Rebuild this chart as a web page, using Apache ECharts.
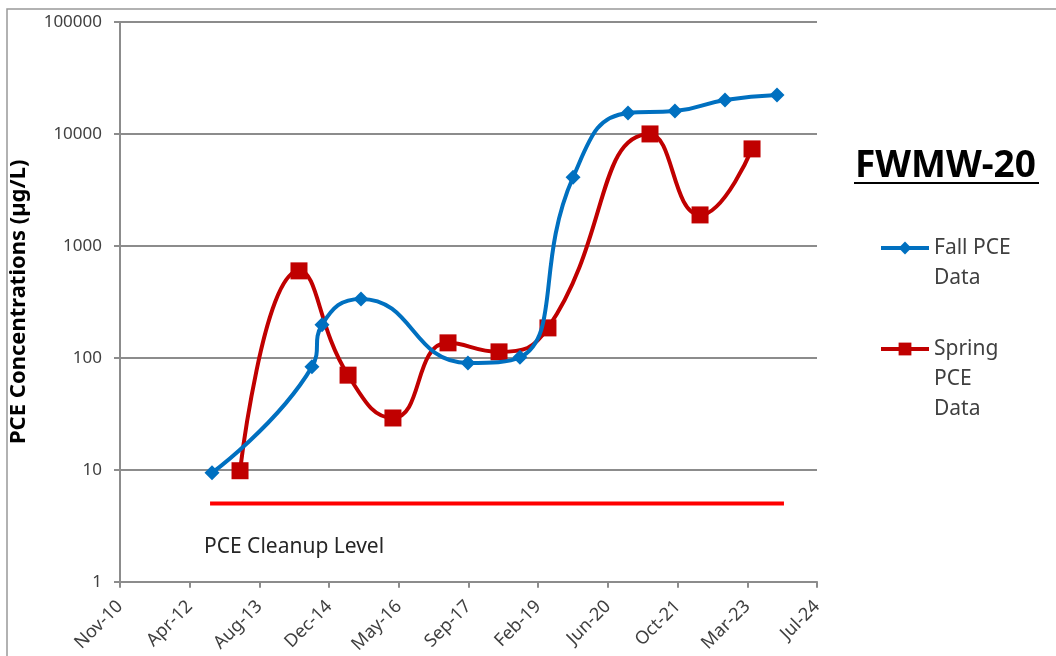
<!DOCTYPE html>
<html>
<head>
<meta charset="utf-8">
<script src="https://cdn.jsdelivr.net/npm/echarts@6/dist/echarts.min.js"></script>
<style>
	html, body { margin: 0; padding: 0; background: #fff; }
	#chart { width: 1056px; height: 656px; }
</style>
</head>
<body>
<div id="chart"></div>
<script>
	// 数据
	var fallDates = ['2012-09-08', '2014-08-26', '2014-11-06', '2015-08-13', '2017-09-18', '2018-09-26',
		'2019-10-12', '2020-11-09', '2021-10-12', '2022-10-06', '2023-10-14'];
	var fallValues = [9.4, 83, 197, 336, 90, 101, 4100, 15400, 16000, 20100, 22300];

	var springDates = ['2013-03-28', '2014-05-25', '2015-05-12', '2016-03-29', '2017-04-28', '2018-04-29',
		'2019-04-15', '2021-04-16', '2022-04-10', '2023-04-18'];
	var springValues = [9.8, 598, 70, 29, 136, 113, 185, 10000, 1890, 7350];

	var cleanupDates = ['2012-08-25', '2023-12-03'];
	var cleanupValues = [5, 5];

	var xMin = 40500, xMax = 45500, xStep = 500; // Excel 日期序号
	var yTicks = [1, 10, 100, 1000, 10000, 100000];

	var MONTHS = ['Jan', 'Feb', 'Mar', 'Apr', 'May', 'Jun', 'Jul', 'Aug', 'Sep', 'Oct', 'Nov', 'Dec'];

	// 日期字符串 -> Excel 序号
	var toSerial = function(s) {
		var p = s.split('-');
		return Date.UTC(+p[0], +p[1] - 1, +p[2]) / 86400000 + 25569;
	};
	// Excel 序号 -> 'Mon-YY'
	var fmtSerial = function(v) {
		var d = new Date((v - 25569) * 86400000);
		return MONTHS[d.getUTCMonth()] + '-' + String(d.getUTCFullYear()).slice(2);
	};
	var pair = function(dates, vals) {
		var out = [];
		for(var i = 0; i < dates.length; i++) {
			out.push([toSerial(dates[i]), vals[i]]);
		}
		return out;
	};

	var FONT = 'Noto Sans';
	var GRIDC = '#8c8c8c';
	var legendText = { fontFamily: FONT, fontSize: 21, color: '#404040', lineHeight: 30 };

	var chart = echarts.init(document.getElementById('chart'));
	chart.setOption({
		animation: false,
		backgroundColor: '#fff',
		grid: { left: 120, right: 239, top: 22, bottom: 74 },
		xAxis: {
			type: 'value',
			min: xMin,
			max: xMax,
			interval: xStep,
			splitLine: { show: false },
			axisLine: { show: true, lineStyle: { color: GRIDC, width: 2 } },
			axisTick: { show: true, length: 6, lineStyle: { color: GRIDC, width: 2 } },
			axisLabel: {
				rotate: 45,
				margin: 22,
				color: '#404040',
				fontFamily: FONT,
				fontSize: 18,
				formatter: fmtSerial
			}
		},
		yAxis: {
			type: 'log',
			logBase: 10,
			min: yTicks[0],
			max: yTicks[yTicks.length - 1],
			name: 'PCE Concentrations (µg/L)',
			nameLocation: 'middle',
			nameGap: 90,
			nameTextStyle: { fontFamily: FONT, fontSize: 22, fontWeight: 'bold', color: '#000' },
			splitLine: { show: true, lineStyle: { color: GRIDC, width: 2 } },
			axisLine: { show: true, lineStyle: { color: GRIDC, width: 2 } },
			axisTick: { show: true, length: 6, lineStyle: { color: GRIDC, width: 2 } },
			axisLabel: {
				margin: 18,
				color: '#404040',
				fontFamily: FONT,
				fontSize: 17,
				formatter: function(v) { return String(v); }
			}
		},
		// 多行图例: 用空行把第一行对齐到图标
		legend: [{
			left: 874,
			top: 198,
			itemWidth: 48,
			itemHeight: 16,
			lineStyle: { width: 4 },
			data: ['Fall PCE Data'],
			formatter: function() { return ' \nFall PCE\nData'; },
			textStyle: legendText
		}, {
			left: 874,
			top: 269,
			itemWidth: 48,
			itemHeight: 16,
			lineStyle: { width: 4 },
			data: ['Spring PCE Data'],
			formatter: function() { return ' \n \nSpring\nPCE\nData'; },
			textStyle: legendText
		}],
		graphic: [{
			type: 'rect',
			shape: { x: 7, y: 9, width: 1200, height: 800 },
			style: { fill: 'none', stroke: '#999', lineWidth: 1.5 },
			silent: true
		}, {
			type: 'text',
			left: 855,
			top: 148,
			style: { text: 'FWMW-20', font: 'bold 37px "Noto Sans"', fill: '#000' }
		}, {
			type: 'line',
			shape: { x1: 854, y1: 183, x2: 1039, y2: 183 },
			style: { stroke: '#000', lineWidth: 2 }
		}, {
			type: 'text',
			left: 204,
			top: 537,
			style: { text: 'PCE Cleanup Level', font: '21px "Noto Sans"', fill: '#262626' }
		}],
		series: [{
			name: 'PCE Cleanup Level',
			type: 'line',
			data: pair(cleanupDates, cleanupValues),
			symbol: 'none',
			lineStyle: { color: '#ff0000', width: 4 },
			z: 1
		}, {
			name: 'Fall PCE Data',
			type: 'line',
			smooth: 0.5,
			data: pair(fallDates, fallValues),
			symbol: 'diamond',
			symbolSize: 15,
			color: '#0070c0',
			lineStyle: { color: '#0070c0', width: 4 },
			itemStyle: { color: '#0070c0' },
			z: 3
		}, {
			name: 'Spring PCE Data',
			type: 'line',
			smooth: 0.5,
			data: pair(springDates, springValues),
			symbol: 'rect',
			symbolSize: 17,
			color: '#c00000',
			lineStyle: { color: '#c00000', width: 4 },
			itemStyle: { color: '#c00000' },
			z: 2
		}]
	});
</script>
</body>
</html>
